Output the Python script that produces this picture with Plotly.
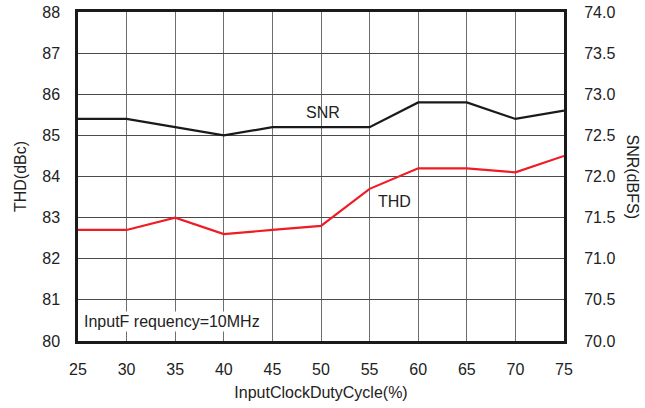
import plotly.graph_objects as go

# input clock duty cycle (%)
duty_cycle = [25, 30, 35, 40, 45, 50, 55, 60, 65, 70, 75]

# THD on the left axis (dBc), SNR on the right axis (dBFS)
thd_dbc = [82.7, 82.7, 83.0, 82.6, 82.7, 82.8, 83.7, 84.2, 84.2, 84.1, 84.5]
snr_dbfs = [72.7, 72.7, 72.6, 72.5, 72.6, 72.6, 72.6, 72.9, 72.9, 72.7, 72.8]

x_ticks = list(range(25, 80, 5))
thd_ticks = list(range(80, 89))
snr_ticks = [70.0, 70.5, 71.0, 71.5, 72.0, 72.5, 73.0, 73.5, 74.0]

FONT = "Liberation Sans, Arial, sans-serif"
TXT = "#222222"

W, H = 645, 408
L, R, T, B = 78, 81, 12, 67

fig = go.Figure()

fig.add_trace(go.Scatter(
    x=duty_cycle, y=thd_dbc, mode="lines", name="THD",
    line=dict(color="#ee1c25", width=2.2), yaxis="y"))

fig.add_trace(go.Scatter(
    x=duty_cycle, y=snr_dbfs, mode="lines", name="SNR",
    line=dict(color="#1a1a1a", width=2.2), yaxis="y2"))

fig.update_layout(
    width=W, height=H,
    margin=dict(l=L, r=R, t=T, b=B),
    paper_bgcolor="white", plot_bgcolor="white",
    showlegend=False,
    font=dict(family=FONT, size=16, color=TXT),
    xaxis=dict(
        range=[25, 75], tickvals=x_ticks, showgrid=True,
        ticks="outside", ticklen=12, tickcolor="rgba(0,0,0,0)",
        gridcolor="#6e6e6e", gridwidth=1.3, zeroline=False, automargin=False,
        showline=True, linecolor="#1a1a1a", linewidth=2.5, mirror=True,
        title=dict(text="InputClockDutyCycle(%)", standoff=10,
                   font=dict(size=16, color=TXT)),
        tickfont=dict(size=16, color=TXT),
    ),
    yaxis=dict(
        range=[80, 88], tickvals=thd_ticks, showgrid=True,
        ticks="outside", ticklen=12, tickcolor="rgba(0,0,0,0)",
        gridcolor="#4a4a4a", gridwidth=1.2, zeroline=False, automargin=False,
        showline=True, linecolor="#1a1a1a", linewidth=2.5, mirror=True,
        title=dict(text="THD(dBc)", standoff=12, font=dict(size=16, color=TXT)),
        tickfont=dict(size=16, color=TXT),
    ),
    yaxis2=dict(
        range=[70, 74], tickvals=snr_ticks, tickformat=".1f",
        ticks="outside", ticklen=16, tickcolor="rgba(0,0,0,0)",
        overlaying="y", side="right", showgrid=False, zeroline=False,
        automargin=False,
        tickfont=dict(size=16, color=TXT),
    ),
)

fig.add_annotation(x=(632 - L) / (W - L - R), y=0.5, xref="paper",
                   yref="paper", xanchor="center", yanchor="middle",
                   text="SNR(dBFS)", textangle=90,
                   showarrow=False, font=dict(size=16, color=TXT))
fig.add_annotation(x=50.2, y=72.78, xref="x", yref="y2", text="SNR",
                   showarrow=False, font=dict(size=16, color=TXT))
fig.add_annotation(x=55.7, y=83.4, xref="x", yref="y", xanchor="left",
                   text="THD", showarrow=False,
                   font=dict(size=16, color=TXT))
fig.add_annotation(x=25.4, y=80.47, xref="x", yref="y", xanchor="left",
                   text="InputF requency=10MHz", showarrow=False,
                   bgcolor="white", font=dict(size=16, color=TXT))

# drop the default page margin so the figure sits at the window corner
fig.write_html("out.html", config={"displayModeBar": False},
               post_script="document.body.style.margin='0';")
